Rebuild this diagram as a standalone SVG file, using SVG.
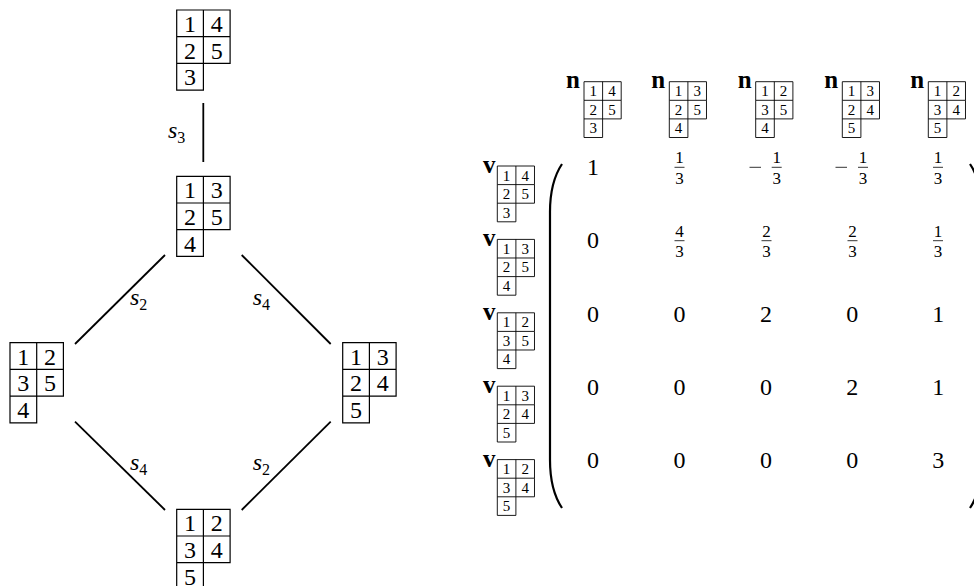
<svg xmlns="http://www.w3.org/2000/svg" width="974" height="586" viewBox="0 0 974 586">
<style>
.c{fill:none;stroke:#000;stroke-width:1.2}
.cs{fill:none;stroke:#000;stroke-width:0.9}
.d{font-family:"Liberation Serif","DejaVu Serif",serif;font-size:24px;text-anchor:middle;fill:#000}
.ds{font-family:"Liberation Serif","DejaVu Serif",serif;font-size:15px;text-anchor:middle;fill:#000}
.m{font-family:"Liberation Serif","DejaVu Serif",serif;font-size:24px;text-anchor:middle;fill:#000}
.f{font-family:"Liberation Serif","DejaVu Serif",serif;font-size:17px;text-anchor:middle;fill:#000}
.b{font-family:"Liberation Serif","DejaVu Serif",serif;font-size:25px;font-weight:bold;fill:#000}
.s{font-family:"Liberation Serif","DejaVu Serif",serif;font-size:24px;font-style:italic;fill:#000}
.sub{font-style:normal;font-size:16px}
.e{stroke:#000;stroke-width:1.8;fill:none}
.bar{stroke:#000;stroke-width:0.8}
.p{stroke:#000;stroke-width:2.2;fill:none}
</style>
<defs>
<path id="big" d="M0,0h53.4v26.7h-53.4zM26.7,0v53.4M0,26.7v53.4h26.7v-26.7M0,53.4h53.4v-26.7" class="c"/>
<path id="sm" d="M0,0h37.2v18.6h-37.2zM18.6,0v37.2M0,18.6v37.2h18.6v-18.6M0,37.2h37.2v-18.6" class="cs"/>
</defs>

<g id="connectors">
<line class="e" x1="203.3" y1="103" x2="203.3" y2="162"/>
<line class="e" x1="165" y1="255" x2="75" y2="344"/>
<line class="e" x1="241.7" y1="255" x2="330.7" y2="344"/>
<line class="e" x1="75" y1="421.7" x2="165" y2="510"/>
<line class="e" x1="330.7" y1="421.7" x2="241.7" y2="510"/>
<text class="s" x="168" y="138">s<tspan class="sub" dy="5">3</tspan></text>
<text class="s" x="130" y="305">s<tspan class="sub" dy="5">2</tspan></text>
<text class="s" x="252.7" y="305">s<tspan class="sub" dy="5">4</tspan></text>
<text class="s" x="130" y="470">s<tspan class="sub" dy="5">4</tspan></text>
<text class="s" x="252.7" y="470">s<tspan class="sub" dy="5">2</tspan></text>
</g>

<g id="t-top" transform="translate(176.7,10)">
<use href="#big"/>
<text class="d" x="13.35" y="22">1</text><text class="d" x="40.05" y="22">4</text>
<text class="d" x="13.35" y="48.7">2</text><text class="d" x="40.05" y="48.7">5</text>
<text class="d" x="13.35" y="75.4">3</text>
</g>
<g id="t-mid" transform="translate(176.7,176.3)">
<use href="#big"/>
<text class="d" x="13.35" y="22">1</text><text class="d" x="40.05" y="22">3</text>
<text class="d" x="13.35" y="48.7">2</text><text class="d" x="40.05" y="48.7">5</text>
<text class="d" x="13.35" y="75.4">4</text>
</g>
<g id="t-left" transform="translate(10,342.7)">
<use href="#big"/>
<text class="d" x="13.35" y="22">1</text><text class="d" x="40.05" y="22">2</text>
<text class="d" x="13.35" y="48.7">3</text><text class="d" x="40.05" y="48.7">5</text>
<text class="d" x="13.35" y="75.4">4</text>
</g>
<g id="t-right" transform="translate(342.7,342.7)">
<use href="#big"/>
<text class="d" x="13.35" y="22">1</text><text class="d" x="40.05" y="22">3</text>
<text class="d" x="13.35" y="48.7">2</text><text class="d" x="40.05" y="48.7">4</text>
<text class="d" x="13.35" y="75.4">5</text>
</g>
<g id="t-bottom" transform="translate(176.7,509.3)">
<use href="#big"/>
<text class="d" x="13.35" y="22">1</text><text class="d" x="40.05" y="22">2</text>
<text class="d" x="13.35" y="48.7">3</text><text class="d" x="40.05" y="48.7">4</text>
<text class="d" x="13.35" y="75.4">5</text>
</g>

<g id="matrix">
<g id="headers">
<g id="n1"><text class="b" x="566" y="88">n</text><g transform="translate(584,81.7)"><use href="#sm"/><text class="ds" x="9.3" y="14.5">1</text><text class="ds" x="27.9" y="14.5">4</text><text class="ds" x="9.3" y="33.1">2</text><text class="ds" x="27.9" y="33.1">5</text><text class="ds" x="9.3" y="51.7">3</text></g></g>
<g id="n2"><text class="b" x="651.3" y="88">n</text><g transform="translate(669.3,81.7)"><use href="#sm"/><text class="ds" x="9.3" y="14.5">1</text><text class="ds" x="27.9" y="14.5">3</text><text class="ds" x="9.3" y="33.1">2</text><text class="ds" x="27.9" y="33.1">5</text><text class="ds" x="9.3" y="51.7">4</text></g></g>
<g id="n3"><text class="b" x="737.7" y="88">n</text><g transform="translate(755.7,81.7)"><use href="#sm"/><text class="ds" x="9.3" y="14.5">1</text><text class="ds" x="27.9" y="14.5">2</text><text class="ds" x="9.3" y="33.1">3</text><text class="ds" x="27.9" y="33.1">5</text><text class="ds" x="9.3" y="51.7">4</text></g></g>
<g id="n4"><text class="b" x="824.3" y="88">n</text><g transform="translate(842.3,81.7)"><use href="#sm"/><text class="ds" x="9.3" y="14.5">1</text><text class="ds" x="27.9" y="14.5">3</text><text class="ds" x="9.3" y="33.1">2</text><text class="ds" x="27.9" y="33.1">4</text><text class="ds" x="9.3" y="51.7">5</text></g></g>
<g id="n5"><text class="b" x="910.3" y="88">n</text><g transform="translate(928.3,81.7)"><use href="#sm"/><text class="ds" x="9.3" y="14.5">1</text><text class="ds" x="27.9" y="14.5">2</text><text class="ds" x="9.3" y="33.1">3</text><text class="ds" x="27.9" y="33.1">4</text><text class="ds" x="9.3" y="51.7">5</text></g></g>
</g>
<g id="rowlabels">
<g id="v1"><text class="b" x="483" y="173">v</text><g transform="translate(497.3,166)"><use href="#sm"/><text class="ds" x="9.3" y="14.5">1</text><text class="ds" x="27.9" y="14.5">4</text><text class="ds" x="9.3" y="33.1">2</text><text class="ds" x="27.9" y="33.1">5</text><text class="ds" x="9.3" y="51.7">3</text></g></g>
<g id="v2"><text class="b" x="483" y="246.4">v</text><g transform="translate(497.3,239.4)"><use href="#sm"/><text class="ds" x="9.3" y="14.5">1</text><text class="ds" x="27.9" y="14.5">3</text><text class="ds" x="9.3" y="33.1">2</text><text class="ds" x="27.9" y="33.1">5</text><text class="ds" x="9.3" y="51.7">4</text></g></g>
<g id="v3"><text class="b" x="483" y="319.8">v</text><g transform="translate(497.3,312.8)"><use href="#sm"/><text class="ds" x="9.3" y="14.5">1</text><text class="ds" x="27.9" y="14.5">2</text><text class="ds" x="9.3" y="33.1">3</text><text class="ds" x="27.9" y="33.1">5</text><text class="ds" x="9.3" y="51.7">4</text></g></g>
<g id="v4"><text class="b" x="483" y="393.2">v</text><g transform="translate(497.3,386.2)"><use href="#sm"/><text class="ds" x="9.3" y="14.5">1</text><text class="ds" x="27.9" y="14.5">3</text><text class="ds" x="9.3" y="33.1">2</text><text class="ds" x="27.9" y="33.1">4</text><text class="ds" x="9.3" y="51.7">5</text></g></g>
<g id="v5"><text class="b" x="483" y="466.6">v</text><g transform="translate(497.3,459.6)"><use href="#sm"/><text class="ds" x="9.3" y="14.5">1</text><text class="ds" x="27.9" y="14.5">2</text><text class="ds" x="9.3" y="33.1">3</text><text class="ds" x="27.9" y="33.1">4</text><text class="ds" x="9.3" y="51.7">5</text></g></g>
</g>
<path class="p" d="M562,164 Q550,182 550,212 L550,460 Q550,490 562,508"/>
<path class="p" d="M970,164 Q982,182 982,212 L982,460 Q982,490 970,508"/>
<g id="entries">
<text class="m" x="593" y="174.7">1</text>
<text class="f" x="679.5" y="163.3">1</text><line class="bar" x1="674.5" y1="167.3" x2="684.5" y2="167.3"/><text class="f" x="679.5" y="184">3</text>
<line class="bar" x1="749.5" y1="167.3" x2="761" y2="167.3"/><text class="f" x="776.7" y="163.3">1</text><line class="bar" x1="771.7" y1="167.3" x2="781.7" y2="167.3"/><text class="f" x="776.7" y="184">3</text>
<line class="bar" x1="835.5" y1="167.3" x2="847" y2="167.3"/><text class="f" x="863" y="163.3">1</text><line class="bar" x1="858" y1="167.3" x2="868" y2="167.3"/><text class="f" x="863" y="184">3</text>
<text class="f" x="938" y="163.3">1</text><line class="bar" x1="933" y1="167.3" x2="943" y2="167.3"/><text class="f" x="938" y="184">3</text>
<text class="m" x="593" y="248.1">0</text>
<text class="f" x="679.5" y="236.7">4</text><line class="bar" x1="674.5" y1="240.7" x2="684.5" y2="240.7"/><text class="f" x="679.5" y="257.4">3</text>
<text class="f" x="766.5" y="236.7">2</text><line class="bar" x1="761.5" y1="240.7" x2="771.5" y2="240.7"/><text class="f" x="766.5" y="257.4">3</text>
<text class="f" x="852.5" y="236.7">2</text><line class="bar" x1="847.5" y1="240.7" x2="857.5" y2="240.7"/><text class="f" x="852.5" y="257.4">3</text>
<text class="f" x="938" y="236.7">1</text><line class="bar" x1="933" y1="240.7" x2="943" y2="240.7"/><text class="f" x="938" y="257.4">3</text>
<text class="m" x="593" y="321.5">0</text><text class="m" x="679.5" y="321.5">0</text><text class="m" x="766" y="321.5">2</text><text class="m" x="852.3" y="321.5">0</text><text class="m" x="938.3" y="321.5">1</text>
<text class="m" x="593" y="394.9">0</text><text class="m" x="679.5" y="394.9">0</text><text class="m" x="766" y="394.9">0</text><text class="m" x="852.3" y="394.9">2</text><text class="m" x="938.3" y="394.9">1</text>
<text class="m" x="593" y="468.3">0</text><text class="m" x="679.5" y="468.3">0</text><text class="m" x="766" y="468.3">0</text><text class="m" x="852.3" y="468.3">0</text><text class="m" x="938.3" y="468.3">3</text>
</g>
</g>
</svg>
